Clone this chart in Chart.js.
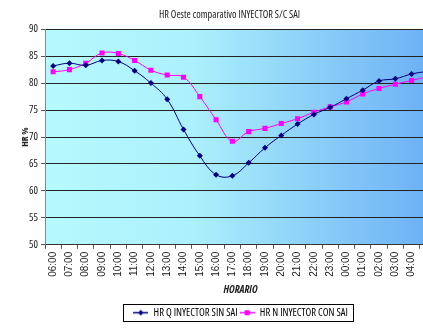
<!DOCTYPE html>
<html>
<head>
<meta charset="utf-8">
<script src="https://cdn.jsdelivr.net/npm/chart.js@4"></script>
<style>
  html, body { margin: 0; padding: 0; background: #fff; }
  #wrap { width: 423px; height: 328px; overflow: hidden; position: relative; }
  #box { width: 443px; height: 328px; position: absolute; left: 0; top: 0; }
</style>
</head>
<body>
<div id="wrap"><div id="box"><canvas id="chart"></canvas></div></div>
<script>
const horas = ['06:00', '07:00', '08:00', '09:00', '10:00', '11:00', '12:00', '13:00',
  '14:00', '15:00', '16:00', '17:00', '18:00', '19:00', '20:00', '21:00', '22:00',
  '23:00', '00:00', '01:00', '02:00', '03:00', '04:00', '05:00']
const hrSinSai = [83.2, 83.7, 83.3, 84.2, 84.0, 82.3, 80.0, 77.0, 71.4, 66.5, 63.0, 62.8,
  65.2, 68.0, 70.3, 72.4, 74.2, 75.5, 77.1, 78.7, 80.4, 80.8, 81.7, 82.2]
const hrConSai = [82.1, 82.5, 83.7, 85.6, 85.5, 84.2, 82.4, 81.5, 81.1, 77.5, 73.2, 69.2,
  71.0, 71.6, 72.5, 73.4, 74.6, 75.6, 76.5, 78.0, 79.0, 79.8, 80.5, 81.2]
const serieNames = ['HR Q INYECTOR SIN SAI', 'HR N INYECTOR CON SAI']

// condensed face is picked through the weight part of the font string
const openCond = "'Open Sans', sans-serif"

// little line + marker image for the legend
function legendIcon(color, diamond) {
  const c = document.createElement('canvas')
  c.width = 15
  c.height = 7
  const g = c.getContext('2d')
  g.strokeStyle = color
  g.lineWidth = 1.5
  g.beginPath()
  g.moveTo(0, 3.5)
  g.lineTo(15, 3.5)
  g.stroke()
  g.fillStyle = color
  if (diamond) {
    g.beginPath()
    g.moveTo(7.5, 0.5)
    g.lineTo(10, 3.5)
    g.lineTo(7.5, 6.5)
    g.lineTo(5, 3.5)
    g.closePath()
    g.fill()
  } else {
    g.fillRect(5, 1, 5, 5)
  }
  return c
}

const fondo = {
  id: 'fondo',
  beforeDraw(chart) {
    const a = chart.chartArea
    const ctx = chart.ctx
    const grad = ctx.createLinearGradient(a.left, 0, a.right, 0)
    grad.addColorStop(0, '#b6f9fd')
    grad.addColorStop(0.38, '#acf0fc')
    grad.addColorStop(1, '#6aaef5')
    ctx.save()
    ctx.fillStyle = grad
    ctx.fillRect(a.left, a.top, a.right - a.left, a.bottom - a.top)
    ctx.restore()
  },
}

const marcoLeyenda = {
  id: 'marcoLeyenda',
  afterDraw(chart) {
    const boxes = chart.legend.legendHitBoxes
    if (!boxes || !boxes.length) return
    let l = Infinity, r = -Infinity, t = Infinity, b = -Infinity
    boxes.forEach((h) => {
      l = Math.min(l, h.left)
      r = Math.max(r, h.left + h.width)
      t = Math.min(t, h.top)
      b = Math.max(b, h.top + h.height)
    })
    const ctx = chart.ctx
    ctx.save()
    ctx.strokeStyle = '#000'
    ctx.lineWidth = 1
    ctx.strokeRect(Math.round(l - 10) + 0.5, Math.round(t - 3) + 0.5, Math.round(r - l + 15), Math.round(b - t + 6))
    ctx.restore()
  },
}

const iconos = [legendIcon('#000080', true), legendIcon('#ff00ff', false)]

new Chart(document.getElementById('chart'), {
  type: 'line',
  data: {
    labels: horas,
    datasets: [
      {
        label: serieNames[0],
        data: hrSinSai,
        borderColor: '#000080',
        backgroundColor: '#000080',
        borderWidth: 1,
        tension: 0.4,
        pointStyle: 'rectRot',
        pointRadius: 3,
        pointBorderWidth: 0,
      },
      {
        label: serieNames[1],
        data: hrConSai,
        borderColor: '#ff00ff',
        backgroundColor: '#ff00ff',
        borderWidth: 1,
        tension: 0.4,
        pointStyle: 'rect',
        pointRadius: 3.6,
        pointBorderWidth: 0,
      },
    ],
  },
  options: {
    responsive: true,
    maintainAspectRatio: false,
    animation: false,
    layout: { padding: { left: 20, right: 4, top: 0, bottom: 0 } },
    plugins: {
      title: {
        display: true,
        text: 'HR Oeste comparativo INYECTOR S/C SAI',
        color: '#222',
        font: { family: openCond, size: 10.2, weight: 'normal condensed' },
        padding: { top: 9, bottom: 8 },
      },
      legend: {
        position: 'bottom',
        fullSize: false,
        labels: {
          usePointStyle: true,
          pointStyleWidth: 15,
          padding: 2,
          color: '#000',
          font: { family: openCond, size: 10.6, weight: 'normal condensed' },
          generateLabels: (chart) =>
            chart.data.datasets.map((ds, i) => ({
              text: ds.label,
              pointStyle: iconos[i],
              fillStyle: ds.borderColor,
              strokeStyle: ds.borderColor,
              lineWidth: 0,
              datasetIndex: i,
              fontColor: '#000',
            })),
        },
      },
      tooltip: { enabled: false },
    },
    scales: {
      x: {
        offset: true,
        grid: {
          offset: true,
          drawOnChartArea: false,
          drawTicks: true,
          tickLength: 4,
          color: '#555',
        },
        border: { color: '#333' },
        ticks: {
          autoSkip: false,
          minRotation: 90,
          maxRotation: 90,
          padding: 3,
          color: '#222',
          font: { family: "'Liberation Sans', Arial, sans-serif", size: 10 },
        },
        title: {
          display: true,
          text: 'HORARIO',
          color: '#222',
          font: { family: openCond, size: 10.5, weight: 'bold condensed', style: 'italic' },
          padding: { top: 4, bottom: 9 },
        },
      },
      y: {
        min: 50,
        max: 90,
        afterFit: (scale) => {
          scale.width = 25
        },
        grid: {
          color: '#222',
          tickLength: 4,
          tickColor: '#555',
        },
        border: { color: '#888' },
        ticks: {
          stepSize: 5,
          padding: 3,
          color: '#222',
          font: { family: openCond, size: 10.5, weight: 'normal condensed' },
        },
        title: {
          display: true,
          text: 'HR %',
          color: '#222',
          font: { family: openCond, size: 9.5, weight: 'bold condensed' },
          padding: 0,
        },
      },
    },
  },
  plugins: [fondo, marcoLeyenda],
})
</script>
</body>
</html>
